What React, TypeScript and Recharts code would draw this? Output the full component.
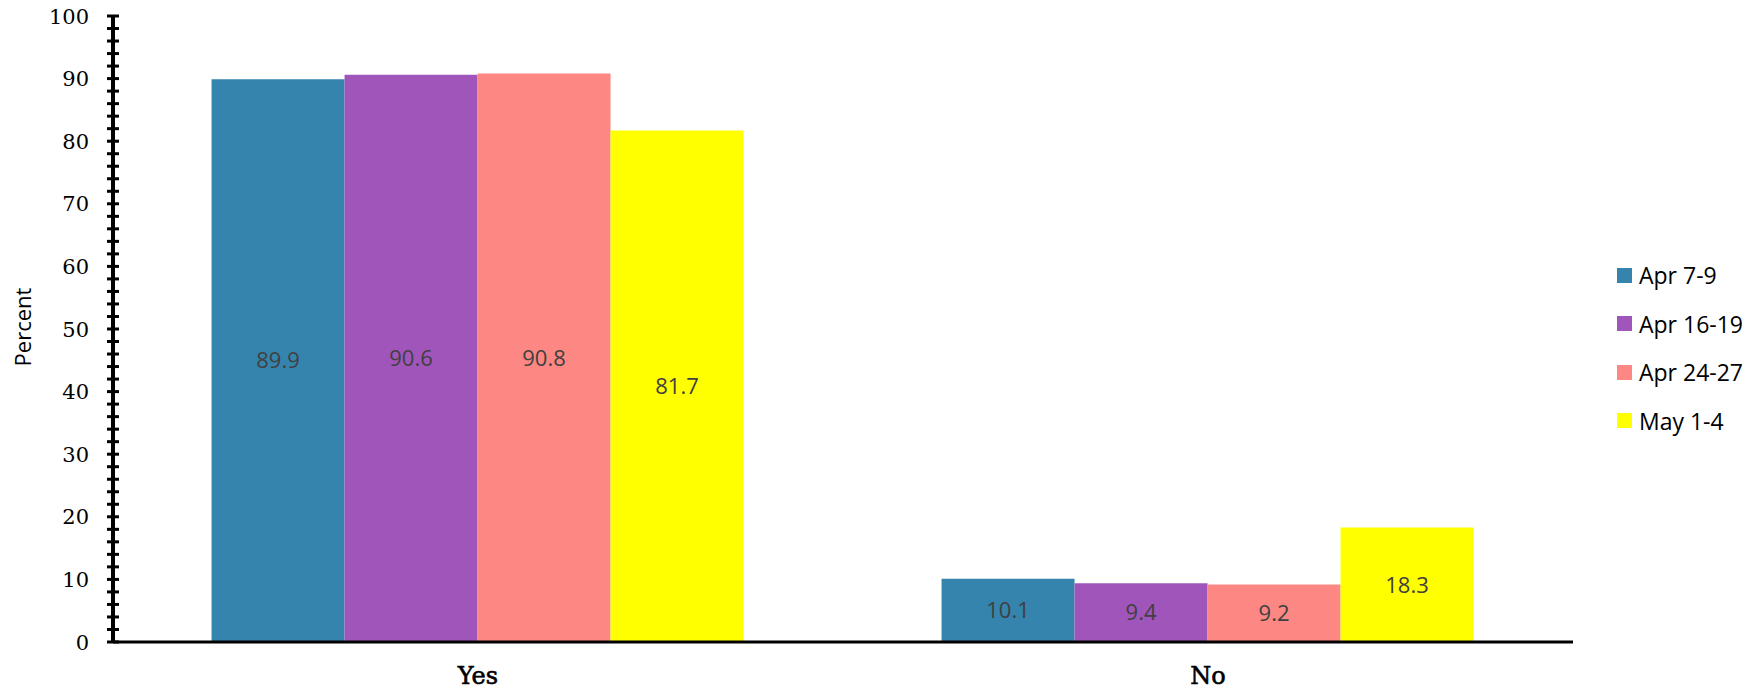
import { Bar, BarChart, LabelList, XAxis, YAxis } from 'recharts'

const categories = ['Yes', 'No']
const seriesNames = ['Apr 7-9', 'Apr 16-19', 'Apr 24-27', 'May 1-4']
const apr7to9 = [89.9, 10.1]
const apr16to19 = [90.6, 9.4]
const apr24to27 = [90.8, 9.2]
const may1to4 = [81.7, 18.3]
const yMajorTicks = [0, 10, 20, 30, 40, 50, 60, 70, 80, 90, 100]
const yMinorTicks = [
  0, 2, 4, 6, 8, 10, 12, 14, 16, 18, 20, 22, 24, 26, 28, 30, 32, 34, 36, 38, 40, 42, 44, 46, 48, 50,
  52, 54, 56, 58, 60, 62, 64, 66, 68, 70, 72, 74, 76, 78, 80, 82, 84, 86, 88, 90, 92, 94, 96, 98, 100,
]

const colors = ['#3584ad', '#a055bb', '#fc8783', '#ffff00']
const keys = ['s0', 's1', 's2', 's3']

const data = categories.map((name, i) => ({
  name,
  s0: apr7to9[i],
  s1: apr16to19[i],
  s2: apr24to27[i],
  s3: may1to4[i],
}))

const serif = '"DejaVu Serif", serif'
const sans = '"Open Sans", sans-serif'

function YTick(props: any) {
  const { x, y, payload } = props
  const major = yMajorTicks.includes(payload.value)
  return (
    <g>
      <line x1={x - 6} x2={x + 6} y1={y} y2={y} stroke="#000" strokeWidth={3} />
      {major && (
        <text x={x - 24} y={y} dy="0.36em" textAnchor="end" fontFamily={serif} fontSize={21} fill="#000">
          {payload.value}
        </text>
      )}
    </g>
  )
}

function XTick(props: any) {
  const { x, y, payload } = props
  return (
    <text
      x={x}
      y={y + 42}
      textAnchor="middle"
      fontFamily={serif}
      fontSize={24}
      fill="#000"
      stroke="#000"
      strokeWidth={0.6}
    >
      {payload.value}
    </text>
  )
}

function PercentLabel(props: any) {
  const vb = props.viewBox
  const cy = vb.y + vb.height / 2 - 2
  return (
    <text x={23} y={cy} transform={`rotate(-90 23 ${cy})`} dy="0.36em" textAnchor="middle" fontFamily={sans} fontSize={22} fill="#000">
      Percent
    </text>
  )
}

export default function App() {
  return (
    <div style={{ position: 'absolute', left: 0, top: 0, width: 1762, height: 692, background: '#fff' }}>
      <BarChart
        width={1762}
        height={692}
        data={data}
        margin={{ top: 16, right: 189, left: 0, bottom: 0 }}
        barCategoryGap="13.5%"
        barGap={0}
      >
        <XAxis
          dataKey="name"
          height={50}
          axisLine={{ stroke: '#000', strokeWidth: 3 }}
          tickLine={false}
          tickSize={0}
          tickMargin={0}
          tick={<XTick />}
        />
        <YAxis
          width={113}
          domain={[0, 100]}
          ticks={yMinorTicks}
          interval={0}
          axisLine={{ stroke: '#000', strokeWidth: 4 }}
          tickLine={false}
          tickSize={0}
          tickMargin={0}
          tick={<YTick />}
          label={{ content: <PercentLabel /> }}
        />
        {keys.map((k, i) => (
          <Bar key={k} dataKey={k} name={seriesNames[i]} fill={colors[i]} isAnimationActive={false}>
            <LabelList
              dataKey={k}
              position="center"
              fill="#404040"
              fontSize={22}
              fontFamily={sans}
              formatter={(v: any) => Number(v).toFixed(1)}
            />
          </Bar>
        ))}
      </BarChart>
      <div style={{ position: 'absolute', left: 1617, top: 251, fontFamily: sans, fontSize: 23, color: '#000' }}>
        {seriesNames.map((n, i) => (
          <div key={n} style={{ display: 'flex', alignItems: 'center', height: 48.5 }}>
            <span style={{ width: 15, height: 15, background: colors[i], marginRight: 7, display: 'inline-block' }} />
            <span>{n}</span>
          </div>
        ))}
      </div>
    </div>
  )
}
